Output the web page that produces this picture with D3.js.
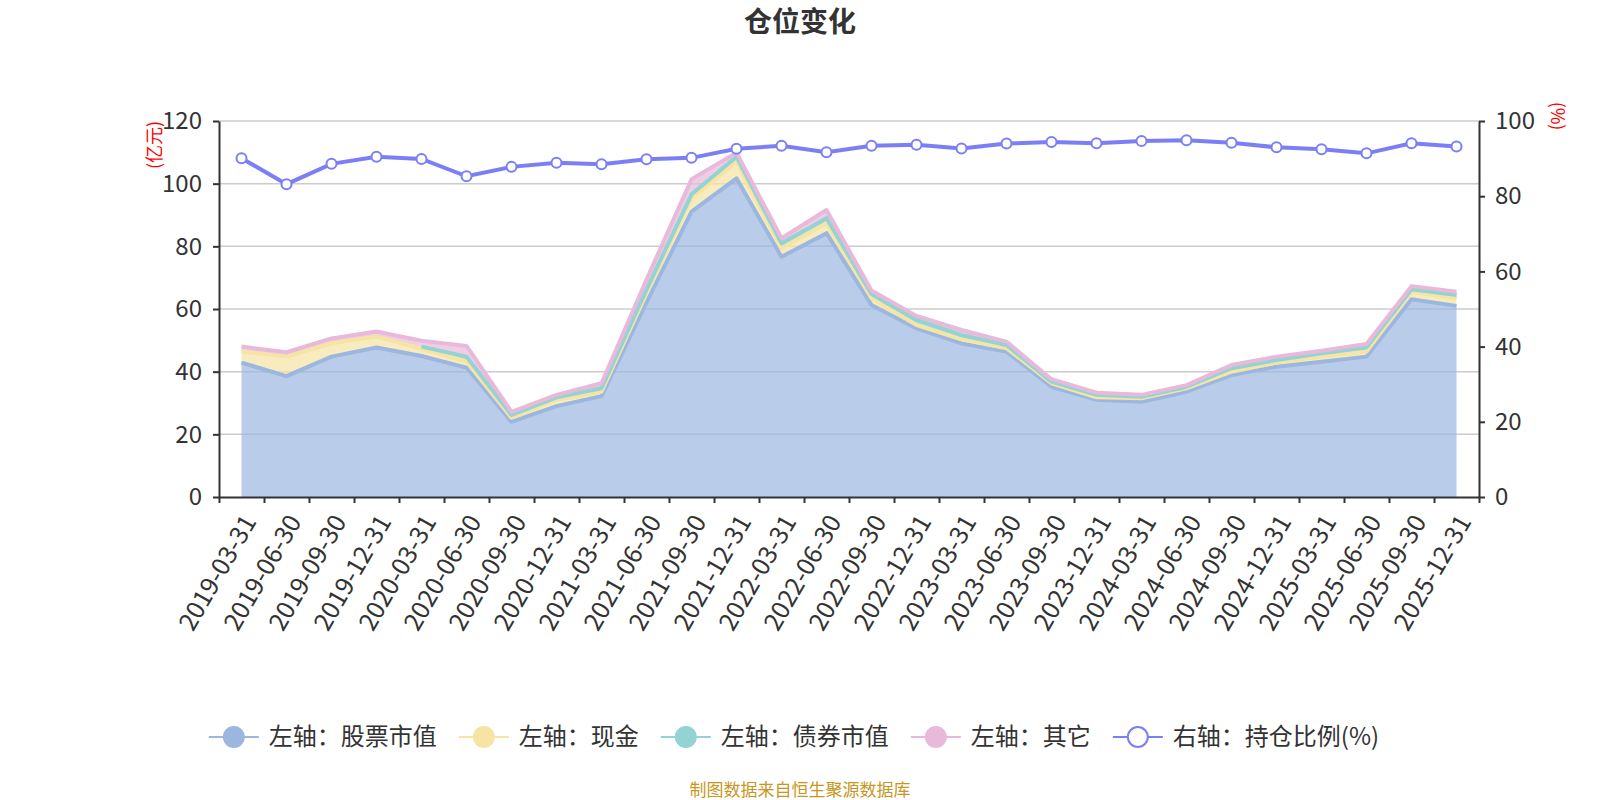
<!DOCTYPE html>
<meta charset="utf-8">
<style>
body { margin: 0; background: #fff; }
svg { font-family: "Noto Sans CJK SC", "Noto Sans", sans-serif; }
.grid line { stroke: #cccccc; stroke-width: 1.5; }
.axis path, .axis line { stroke: #333; stroke-width: 2; }
.axis text { fill: #333; font-size: 24px; font-family: "Noto Sans CJK SC", "Noto Sans", sans-serif; }
</style>
<svg width="1600" height="800"></svg>
<script src="https://d3js.org/d3.v7.min.js"></script>
<script>

var quarters = ["2019-03-31","2019-06-30","2019-09-30","2019-12-31","2020-03-31","2020-06-30","2020-09-30",
  "2020-12-31","2021-03-31","2021-06-30","2021-09-30","2021-12-31","2022-03-31","2022-06-30","2022-09-30",
  "2022-12-31","2023-03-31","2023-06-30","2023-09-30","2023-12-31","2024-03-31","2024-06-30","2024-09-30",
  "2024-12-31","2025-03-31","2025-06-30","2025-09-30","2025-12-31"];

// 亿元
var stockVal = [42.9, 38.6, 44.8, 47.7, 45.0, 41.3, 24.0, 29.0, 32.2, 62.1, 91.1, 101.7, 76.7, 84.2,
  61.3, 53.8, 49.0, 46.4, 35.2, 31.0, 30.4, 33.6, 38.9, 41.6, 43.2, 44.8, 63.1, 61.0];
var cashVal = [3.5, 6.2, 4.2, 3.5, 2.3, 1.9, 1.3, 2.0, 1.4, 2.9, 4.3, 5.3, 2.7, 3.2,
  2.1, 1.1, 1.3, 1.1, 1.1, 0.8, 1.1, 1.1, 1.1, 1.3, 1.6, 1.6, 2.4, 2.4];
var bondVal = [null, null, null, null, 0.7, 1.6, 0.9, 0.8, 1.1, 1.2, 1.2, 1.6, 1.6, 1.6,
  1.4, 1.6, 1.4, 1.0, 0.5, 0.8, 0.5, 0.5, 1.1, 0.8, 1.1, 1.4, 0.8, 1.1];
var otherVal = [1.6, 1.4, 1.6, 1.6, 1.9, 3.4, 1.0, 0.8, 1.6, 3.2, 4.8, 1.3, 1.6, 2.6,
  1.1, 1.3, 1.6, 1.1, 0.8, 0.7, 0.6, 0.5, 1.0, 1.1, 0.8, 1.0, 1.0, 1.0];
// %
var ratioVal = [90.1, 83.2, 88.6, 90.5, 89.9, 85.3, 87.8, 88.9, 88.5, 89.8, 90.2, 92.6, 93.4, 91.7,
  93.4, 93.7, 92.7, 94.0, 94.4, 94.1, 94.7, 94.9, 94.2, 93.0, 92.5, 91.4, 94.1, 93.2];

var leftTicks = [0, 20, 40, 60, 80, 100, 120];
var rightTicks = [0, 20, 40, 60, 80, 100];

var seriesNames = ["左轴：股票市值", "左轴：现金", "左轴：债券市值", "左轴：其它"];
var seriesKeys = ["stock", "cash", "bond", "other"];
var seriesRaw = {stock: stockVal, cash: cashVal, bond: bondVal, other: otherVal};
var colors = ["#9bb7e0", "#f5e4a4", "#93d3d3", "#e8b9da"];
var ratioName = "右轴：持仓比例(%)";
var ratioColor = "#7b7ff6";

var svg = d3.select("svg"),
    plotL = 219, plotR = 1479, plotT = 121, plotB = 497;

var x = d3.scaleBand().domain(quarters).range([plotL, plotR]);
var xi = d3.scaleLinear().domain([0, quarters.length]).range([plotL, plotR]);
var yL = d3.scaleLinear().domain([0, 120]).range([plotB, plotT]);
var yR = d3.scaleLinear().domain([0, 100]).range([plotB, plotT]);
var cx = function(q) { return x(q) + x.bandwidth() / 2; };

// title
svg.append("text")
    .attr("x", 800).attr("y", 32)
    .attr("text-anchor", "middle")
    .style("font-size", "28px").style("font-weight", "bold").style("fill", "#333")
    .text("仓位变化");

// grid
svg.append("g").attr("class", "grid")
  .selectAll("line").data(leftTicks.slice(1)).enter().append("line")
    .attr("x1", plotL).attr("x2", plotR)
    .attr("y1", function(d) { return yL(d); }).attr("y2", function(d) { return yL(d); });

// stacked areas
var table = quarters.map(function(q, i) {
  var row = {q: q};
  seriesKeys.forEach(function(k) { row[k] = seriesRaw[k][i] == null ? 0 : seriesRaw[k][i]; });
  return row;
});
var stacked = d3.stack().keys(seriesKeys)(table);

var area = d3.area()
    .x(function(d) { return cx(d.data.q); })
    .y0(function(d) { return yL(d[0]); })
    .y1(function(d) { return yL(d[1]); });

stacked.forEach(function(layer, li) {
  svg.append("path")
      .datum(layer)
      .attr("d", area)
      .style("fill", colors[li]).style("fill-opacity", 0.7);
});
stacked.forEach(function(layer, li) {
  var key = seriesKeys[li];
  var line = d3.line()
      .defined(function(d, i) { return seriesRaw[key][i] != null; })
      .x(function(d) { return cx(d.data.q); })
      .y(function(d) { return yL(d[1]); });
  svg.append("path")
      .datum(layer)
      .attr("d", line)
      .style("fill", "none").style("stroke", colors[li]).style("stroke-width", 4)
      .style("stroke-linejoin", "round");
});

// ratio line
var ratioLine = d3.line()
    .x(function(d, i) { return cx(quarters[i]); })
    .y(function(d) { return yR(d); });
svg.append("path")
    .datum(ratioVal)
    .attr("d", ratioLine)
    .style("fill", "none").style("stroke", ratioColor).style("stroke-width", 4);
svg.append("g").selectAll("circle").data(ratioVal).enter().append("circle")
    .attr("cx", function(d, i) { return cx(quarters[i]); })
    .attr("cy", function(d) { return yR(d); })
    .attr("r", 5)
    .style("fill", "#fff").style("stroke", ratioColor).style("stroke-width", 2);

// axes
svg.append("g").attr("class", "axis")
    .attr("transform", "translate(" + plotL + ",0)")
    .call(d3.axisLeft(yL).tickValues(leftTicks).tickSize(6).tickSizeOuter(0).tickPadding(11));

svg.append("g").attr("class", "axis")
    .attr("transform", "translate(" + plotR + ",0)")
    .call(d3.axisRight(yR).tickValues(rightTicks).tickSize(6).tickSizeOuter(0).tickPadding(10));

svg.append("g").attr("class", "axis")
    .attr("transform", "translate(0," + plotB + ")")
    .call(d3.axisBottom(xi).ticks(quarters.length).tickSize(6).tickSizeOuter(0).tickFormat(""));

var xLab = svg.append("g").attr("class", "axis")
    .attr("transform", "translate(0," + plotB + ")")
    .call(d3.axisBottom(x).tickSize(0).tickSizeOuter(0));
xLab.select(".domain").remove();
xLab.selectAll("text")
    .style("font-size", "25px")
    .attr("x", 0).attr("y", 0).attr("dy", "0.35em")
    .attr("text-anchor", "end")
    .attr("transform", "translate(8,20) rotate(-60)");

// unit labels
svg.append("text")
    .attr("transform", "translate(161,145) rotate(-90)")
    .attr("text-anchor", "middle")
    .style("font-size", "18px").style("fill", "red")
    .text("(亿元)");
svg.append("text")
    .attr("transform", "translate(1551,116) rotate(90)")
    .attr("text-anchor", "middle")
    .style("font-size", "18px").style("fill", "red")
    .text("(%)");

// legend
var legendItems = seriesNames.map(function(n, i) { return {name: n, color: colors[i], open: false}; })
    .concat([{name: ratioName, color: ratioColor, open: true}]);
var legend = svg.append("g");
var lx = 0;
legendItems.forEach(function(it) {
  var g = legend.append("g").attr("transform", "translate(" + lx + ",0)");
  g.append("line").attr("x1", 0).attr("x2", 50).attr("y1", 0).attr("y2", 0)
      .style("stroke", it.color).style("stroke-width", 2);
  g.append("circle").attr("cx", 25).attr("cy", 0).attr("r", it.open ? 10 : 11)
      .style("fill", it.open ? "#fff" : it.color)
      .style("stroke", it.color).style("stroke-width", it.open ? 2 : 0);
  var t = g.append("text").attr("x", 60).attr("y", 0).attr("dy", "0.35em")
      .style("font-size", "24px").style("fill", "#333")
      .text(it.name);
  lx += 60 + t.node().getComputedTextLength() + 22;
});
lx -= 22;
legend.attr("transform", "translate(" + (794 - lx / 2) + ",737)");

// source
svg.append("text")
    .attr("x", 800).attr("y", 796)
    .attr("text-anchor", "middle")
    .style("font-size", "17px").style("fill", "#c8961e")
    .text("制图数据来自恒生聚源数据库");

</script>
